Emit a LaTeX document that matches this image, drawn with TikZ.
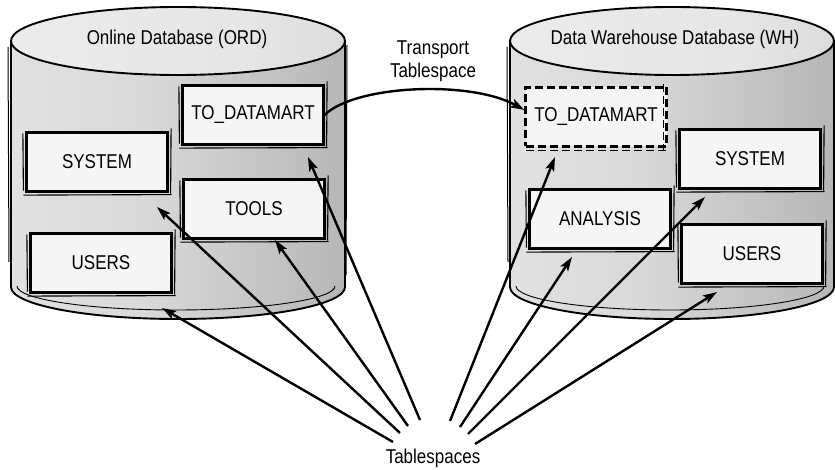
\documentclass[tikz,border=0pt]{standalone}
\usepackage{fontspec}
\setmainfont{Liberation Sans}[FakeStretch=0.85]
\usetikzlibrary{arrows.meta}
\pgfdeclarehorizontalshading{cylbody}{100bp}{color(0bp)=(black!8); color(45bp)=(black!15); color(85bp)=(black!33); color(100bp)=(black!24)}
\pgfdeclarehorizontalshading{cyltop}{100bp}{color(0bp)=(black!6); color(60bp)=(black!10); color(100bp)=(black!20)}
\newcommand\drawcyl[2]{%
  \path[shade, shading=cylbody] (#1-#2,41) -- (#1-#2,287) arc[start angle=180,end angle=360,x radius=#2pt,y radius=32pt] -- (#1+#2,41) -- cycle;
  \draw[line width=1.9pt] (#1-#2,41) -- (#1-#2,287) arc[start angle=180,end angle=360,x radius=#2pt,y radius=32pt] -- (#1+#2,41);
  \draw[line width=0.9pt] (#1-#2+6,286) arc[start angle=180,end angle=360,x radius=#2pt-8pt,y radius=24pt];
  \draw[line width=1pt] (#1-#2-3,47) -- (#1-#2-2,262);
  \draw[line width=1pt] (#1+#2+2,45) -- (#1+#2+1,275);
  \draw[shade, shading=cyltop, line width=1.9pt] (#1,41) ellipse[x radius=#2pt, y radius=34pt];
}
\begin{document}
\begin{tikzpicture}[x=1pt,y=-1pt,
  font=\fontsize{20}{23}\selectfont,
  tsbox/.style={draw, line width=2.2pt, fill=black!4, minimum width=141pt, minimum height=59pt, inner sep=0pt},
  dashbox/.style={draw, line width=2.3pt, dash pattern=on 8pt off 4pt, fill=black!4, minimum width=141pt, minimum height=59pt, inner sep=0pt},
  sketch/.style={line width=1.1pt},
  arr/.style={line width=2.4pt, -{Stealth[length=14pt,width=9pt,inset=3pt]}},
  lbl/.style={anchor=base, inner sep=0pt}]
\useasboundingbox (0,0) rectangle (835,470);
\drawcyl{178}{167}
\drawcyl{672}{162}
\node[lbl] (lname) at (177,45) {Online Database (ORD)};
\node[lbl] (rname) at (675,45) {Data Warehouse Database (WH)};
\node[lbl] (tr1) at (433,55) {Transport};
\node[lbl] (tr2) at (433,78) {Tablespace};
\node[lbl] (ts) at (433,463) {Tablespaces};
% left boxes
\node[tsbox] (ltod) at (253,115) {TO\_DATAMART};
\node[tsbox] (lsys) at (97,162) {SYSTEM};
\node[tsbox] (ltools) at (254,209) {TOOLS};
\node[tsbox] (lusers) at (101,263) {USERS};
% right boxes
\node[dashbox] (rtod) at (596,117) {TO\_DATAMART};
\node[tsbox] (rsys) at (750,159) {SYSTEM};
\node[tsbox] (rana) at (600,219) {ANALYSIS};
\node[tsbox] (rusers) at (752,254) {USERS};
% sketchy second strokes
\foreach \n in {ltod,lsys,ltools,lusers,rsys,rana,rusers} {
  \draw[sketch] ([xshift=-2pt,yshift=-2.5pt]\n.south west) -- ([xshift=3pt,yshift=-2pt]\n.south east);
  \draw[sketch] ([xshift=2.5pt,yshift=3pt]\n.north east) -- ([xshift=2pt,yshift=-1pt]\n.south east);
  \draw[sketch] ([xshift=-2.5pt,yshift=-2pt]\n.north west) -- ([xshift=-2pt,yshift=2pt]\n.south west);
}
\draw[sketch, dash pattern=on 8pt off 4pt] ([xshift=2pt,yshift=-3pt]rtod.south west) -- ([xshift=1pt,yshift=-3pt]rtod.south east);
\draw[sketch, dash pattern=on 8pt off 4pt] ([xshift=-4pt,yshift=2pt]rtod.north east) -- ([xshift=-4pt,yshift=-2pt]rtod.south east);
% transport
\draw[arr] (ltod.east) .. controls (355,85) and (470,80) .. ([yshift=7pt]rtod.west);
% tablespace arrows
\coordinate (s1) at (393,442); \coordinate (t1) at (162,308);
\coordinate (s2) at (400,433); \coordinate (t2) at (157,207);
\coordinate (s3) at (408,426); \coordinate (t3) at (275,240);
\coordinate (s4) at (420,420); \coordinate (t4) at (308,157);
\coordinate (s5) at (450,421); \coordinate (t5) at (555,157);
\coordinate (s6) at (460,427); \coordinate (t6) at (572,257);
\coordinate (s7) at (468,434); \coordinate (t7) at (705,197);
\coordinate (s8) at (475,444); \coordinate (t8) at (717,292);
\foreach \i in {1,...,8} {\draw[arr] (s\i) -- (t\i);}
\end{tikzpicture}
\end{document}
